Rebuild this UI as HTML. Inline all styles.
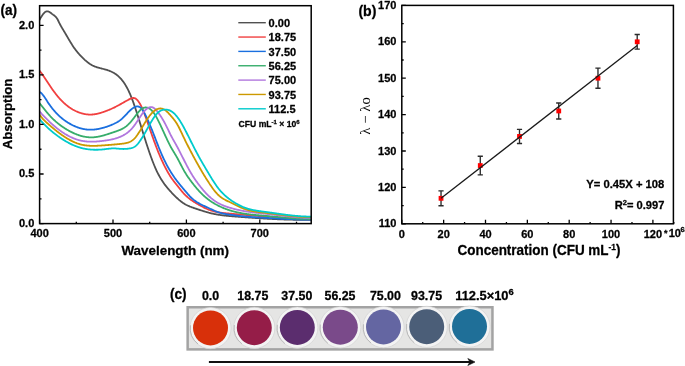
<!DOCTYPE html>
<html><head><meta charset="utf-8"><style>
html,body{margin:0;padding:0;background:#fff;}
body{width:685px;height:366px;overflow:hidden;}
svg{display:block;will-change:transform;font-family:"Liberation Sans", sans-serif;}
text{stroke:#000;stroke-width:0.28px;stroke-linejoin:round;}
.b11{font-size:11px;font-weight:bold;}
.b10{font-size:10.5px;font-weight:bold;}
.b13{font-size:13px;font-weight:bold;}
.b14p{font-size:14.2px;font-weight:bold;}
.b14{font-size:14.5px;font-weight:bold;}
.c12{font-size:12.4px;font-weight:bold;}
</style></head><body>
<svg width="685" height="366" viewBox="0 0 685 366">
<defs><clipPath id="clipA"><rect x="39.6" y="5.7" width="271.6" height="217.9"/></clipPath></defs>
<g fill="none" stroke-width="1.8" stroke-linejoin="round" stroke-linecap="round" clip-path="url(#clipA)">
<path d="M38.50,21.72 L39.00,20.79 L39.50,19.88 L40.00,18.98 L40.50,18.10 L41.00,17.25 L41.50,16.44 L42.00,15.66 L42.50,14.93 L43.00,14.24 L43.50,13.62 L44.00,13.05 L44.50,12.55 L45.00,12.13 L45.50,11.79 L46.00,11.53 L46.50,11.36 L47.00,11.29 L47.50,11.30 L48.00,11.39 L48.50,11.56 L49.00,11.78 L49.50,12.05 L50.00,12.37 L50.50,12.72 L51.00,13.09 L51.50,13.47 L52.00,13.87 L52.50,14.25 L53.00,14.63 L53.50,14.98 L54.00,15.33 L54.50,15.70 L55.00,16.10 L55.50,16.56 L56.00,17.09 L56.50,17.71 L57.00,18.43 L57.50,19.29 L58.00,20.25 L58.50,21.27 L59.00,22.30 L59.50,23.31 L60.00,24.27 L60.50,25.21 L61.00,26.12 L61.50,27.01 L62.00,27.88 L62.50,28.73 L63.00,29.57 L63.50,30.41 L64.00,31.24 L64.50,32.07 L65.00,32.90 L65.50,33.74 L66.00,34.58 L66.50,35.43 L67.00,36.28 L67.50,37.14 L68.00,37.99 L68.50,38.84 L69.00,39.69 L69.50,40.53 L70.00,41.37 L70.50,42.20 L71.00,43.02 L71.50,43.83 L72.00,44.62 L72.50,45.41 L73.00,46.17 L73.50,46.92 L74.00,47.66 L74.50,48.37 L75.00,49.07 L75.50,49.74 L76.00,50.40 L76.50,51.04 L77.00,51.67 L77.50,52.28 L78.00,52.88 L78.50,53.46 L79.00,54.03 L79.50,54.59 L80.00,55.13 L80.50,55.66 L81.00,56.19 L81.50,56.70 L82.00,57.21 L82.50,57.71 L83.00,58.20 L83.50,58.68 L84.00,59.15 L84.50,59.61 L85.00,60.07 L85.50,60.51 L86.00,60.94 L86.50,61.36 L87.00,61.77 L87.50,62.17 L88.00,62.56 L88.50,62.93 L89.00,63.29 L89.50,63.64 L90.00,63.98 L90.50,64.30 L91.00,64.61 L91.50,64.90 L92.00,65.18 L92.50,65.45 L93.00,65.70 L93.50,65.93 L94.00,66.16 L94.50,66.37 L95.00,66.57 L95.50,66.76 L96.00,66.94 L96.50,67.11 L97.00,67.27 L97.50,67.43 L98.00,67.58 L98.50,67.72 L99.00,67.86 L99.50,67.99 L100.00,68.12 L100.50,68.25 L101.00,68.38 L101.50,68.50 L102.00,68.62 L102.50,68.75 L103.00,68.87 L103.50,69.00 L104.00,69.12 L104.50,69.26 L105.00,69.39 L105.50,69.53 L106.00,69.67 L106.50,69.82 L107.00,69.98 L107.50,70.14 L108.00,70.31 L108.50,70.48 L109.00,70.66 L109.50,70.85 L110.00,71.05 L110.50,71.26 L111.00,71.48 L111.50,71.71 L112.00,71.95 L112.50,72.20 L113.00,72.47 L113.50,72.74 L114.00,73.03 L114.50,73.34 L115.00,73.65 L115.50,73.98 L116.00,74.33 L116.50,74.70 L117.00,75.08 L117.50,75.48 L118.00,75.90 L118.50,76.34 L119.00,76.80 L119.50,77.29 L120.00,77.79 L120.50,78.32 L121.00,78.88 L121.50,79.45 L122.00,80.06 L122.50,80.69 L123.00,81.35 L123.50,82.04 L124.00,82.76 L124.50,83.51 L125.00,84.29 L125.50,85.10 L126.00,85.95 L126.50,86.82 L127.00,87.74 L127.50,88.69 L128.00,89.67 L128.50,90.69 L129.00,91.75 L129.50,92.84 L130.00,93.97 L130.50,95.14 L131.00,96.34 L131.50,97.58 L132.00,98.86 L132.50,100.18 L133.00,101.53 L133.50,102.91 L134.00,104.33 L134.50,105.78 L135.00,107.25 L135.50,108.74 L136.00,110.26 L136.50,111.80 L137.00,113.36 L137.50,114.93 L138.00,116.52 L138.50,118.12 L139.00,119.72 L139.50,121.34 L140.00,122.96 L140.50,124.58 L141.00,126.20 L141.50,127.83 L142.00,129.45 L142.50,131.06 L143.00,132.67 L143.50,134.27 L144.00,135.87 L144.50,137.45 L145.00,139.03 L145.50,140.60 L146.00,142.16 L146.50,143.70 L147.00,145.23 L147.50,146.75 L148.00,148.26 L148.50,149.75 L149.00,151.22 L149.50,152.68 L150.00,154.12 L150.50,155.54 L151.00,156.93 L151.50,158.30 L152.00,159.65 L152.50,160.98 L153.00,162.28 L153.50,163.54 L154.00,164.78 L154.50,165.99 L155.00,167.17 L155.50,168.31 L156.00,169.43 L156.50,170.51 L157.00,171.55 L157.50,172.57 L158.00,173.56 L158.50,174.53 L159.00,175.46 L159.50,176.37 L160.00,177.25 L160.50,178.11 L161.00,178.95 L161.50,179.76 L162.00,180.55 L162.50,181.31 L163.00,182.06 L163.50,182.79 L164.00,183.50 L164.50,184.19 L165.00,184.87 L165.50,185.52 L166.00,186.17 L166.50,186.80 L167.00,187.41 L167.50,188.02 L168.00,188.61 L168.50,189.19 L169.00,189.76 L169.50,190.32 L170.00,190.88 L170.50,191.42 L171.00,191.96 L171.50,192.50 L172.00,193.02 L172.50,193.55 L173.00,194.07 L173.50,194.59 L174.00,195.10 L174.50,195.60 L175.00,196.10 L175.50,196.59 L176.00,197.08 L176.50,197.56 L177.00,198.03 L177.50,198.49 L178.00,198.94 L178.50,199.39 L179.00,199.82 L179.50,200.25 L180.00,200.66 L180.50,201.07 L181.00,201.46 L181.50,201.84 L182.00,202.21 L182.50,202.57 L183.00,202.91 L183.50,203.24 L184.00,203.56 L184.50,203.87 L185.00,204.16 L185.50,204.44 L186.00,204.72 L186.50,204.98 L187.00,205.23 L187.50,205.47 L188.00,205.71 L188.50,205.93 L189.00,206.15 L189.50,206.36 L190.00,206.57 L190.50,206.76 L191.00,206.96 L191.50,207.14 L192.00,207.33 L192.50,207.51 L193.00,207.68 L193.50,207.86 L194.00,208.03 L194.50,208.20 L195.00,208.36 L195.50,208.53 L196.00,208.70 L196.50,208.86 L197.00,209.03 L197.50,209.19 L198.00,209.36 L198.50,209.53 L199.00,209.69 L199.50,209.86 L200.00,210.02 L200.50,210.18 L201.00,210.35 L201.50,210.51 L202.00,210.67 L202.50,210.83 L203.00,210.99 L203.50,211.14 L204.00,211.30 L204.50,211.45 L205.00,211.60 L205.50,211.75 L206.00,211.90 L206.50,212.05 L207.00,212.19 L207.50,212.34 L208.00,212.48 L208.50,212.61 L209.00,212.75 L209.50,212.88 L210.00,213.01 L210.50,213.14 L211.00,213.26 L211.50,213.38 L212.00,213.50 L212.50,213.61 L213.00,213.72 L213.50,213.83 L214.00,213.94 L214.50,214.04 L215.00,214.14 L215.50,214.23 L216.00,214.33 L216.50,214.42 L217.00,214.50 L217.50,214.59 L218.00,214.67 L218.50,214.75 L219.00,214.83 L219.50,214.91 L220.00,214.98 L220.50,215.05 L221.00,215.12 L221.50,215.19 L222.00,215.25 L222.50,215.31 L223.00,215.38 L223.50,215.44 L224.00,215.49 L224.50,215.55 L225.00,215.60 L225.50,215.66 L226.00,215.71 L226.50,215.76 L227.00,215.81 L227.50,215.86 L228.00,215.90 L228.50,215.95 L229.00,216.00 L229.50,216.04 L230.00,216.08 L230.50,216.13 L231.00,216.17 L231.50,216.21 L232.00,216.25 L232.50,216.29 L233.00,216.33 L233.50,216.37 L234.00,216.41 L234.50,216.45 L235.00,216.49 L235.50,216.53 L236.00,216.56 L236.50,216.60 L237.00,216.64 L237.50,216.68 L238.00,216.72 L238.50,216.76 L239.00,216.79 L239.50,216.83 L240.00,216.87 L240.50,216.91 L241.00,216.95 L241.50,216.98 L242.00,217.02 L242.50,217.06 L243.00,217.10 L243.50,217.14 L244.00,217.17 L244.50,217.21 L245.00,217.25 L245.50,217.28 L246.00,217.32 L246.50,217.36 L247.00,217.39 L247.50,217.43 L248.00,217.47 L248.50,217.50 L249.00,217.54 L249.50,217.57 L250.00,217.61 L250.50,217.65 L251.00,217.68 L251.50,217.72 L252.00,217.75 L252.50,217.79 L253.00,217.82 L253.50,217.85 L254.00,217.89 L254.50,217.92 L255.00,217.96 L255.50,217.99 L256.00,218.02 L256.50,218.06 L257.00,218.09 L257.50,218.12 L258.00,218.16 L258.50,218.19 L259.00,218.22 L259.50,218.25 L260.00,218.29 L260.50,218.32 L261.00,218.35 L261.50,218.38 L262.00,218.41 L262.50,218.44 L263.00,218.47 L263.50,218.50 L264.00,218.53 L264.50,218.56 L265.00,218.59 L265.50,218.62 L266.00,218.65 L266.50,218.68 L267.00,218.71 L267.50,218.73 L268.00,218.76 L268.50,218.79 L269.00,218.82 L269.50,218.84 L270.00,218.87 L270.50,218.90 L271.00,218.92 L271.50,218.95 L272.00,218.97 L272.50,219.00 L273.00,219.02 L273.50,219.05 L274.00,219.07 L274.50,219.10 L275.00,219.12 L275.50,219.14 L276.00,219.17 L276.50,219.19 L277.00,219.21 L277.50,219.23 L278.00,219.25 L278.50,219.28 L279.00,219.30 L279.50,219.32 L280.00,219.34 L280.50,219.36 L281.00,219.38 L281.50,219.39 L282.00,219.41 L282.50,219.43 L283.00,219.45 L283.50,219.47 L284.00,219.48 L284.50,219.50 L285.00,219.52 L285.50,219.53 L286.00,219.55 L286.50,219.56 L287.00,219.58 L287.50,219.59 L288.00,219.61 L288.50,219.62 L289.00,219.63 L289.50,219.65 L290.00,219.66 L290.50,219.67 L291.00,219.68 L291.50,219.69 L292.00,219.70 L292.50,219.71 L293.00,219.72 L293.50,219.73 L294.00,219.74 L294.50,219.75 L295.00,219.76 L295.50,219.77 L296.00,219.77 L296.50,219.78 L297.00,219.78 L297.50,219.79 L298.00,219.80 L298.50,219.80 L299.00,219.80 L299.50,219.81 L300.00,219.81 L300.50,219.81 L301.00,219.81 L301.50,219.82 L302.00,219.82 L302.50,219.82 L303.00,219.82 L303.50,219.82 L304.00,219.82 L304.50,219.82 L305.00,219.81 L305.50,219.81 L306.00,219.81 L306.50,219.80 L307.00,219.80 L307.50,219.80 L308.00,219.79 L308.50,219.78 L309.00,219.78 L309.50,219.77 L310.00,219.76 L310.50,219.76 L311.00,219.75" stroke="#515151"/>
<path d="M38.10,69.25 L38.60,69.76 L39.10,70.29 L39.60,70.85 L40.10,71.44 L40.60,72.06 L41.10,72.70 L41.60,73.36 L42.10,74.04 L42.60,74.74 L43.10,75.46 L43.60,76.19 L44.10,76.93 L44.60,77.68 L45.10,78.44 L45.60,79.20 L46.10,79.97 L46.60,80.74 L47.10,81.51 L47.60,82.28 L48.10,83.05 L48.60,83.81 L49.10,84.56 L49.60,85.31 L50.10,86.05 L50.60,86.79 L51.10,87.52 L51.60,88.24 L52.10,88.95 L52.60,89.66 L53.10,90.36 L53.60,91.05 L54.10,91.73 L54.60,92.40 L55.10,93.06 L55.60,93.71 L56.10,94.35 L56.60,94.98 L57.10,95.60 L57.60,96.21 L58.10,96.81 L58.60,97.40 L59.10,97.97 L59.60,98.53 L60.10,99.08 L60.60,99.62 L61.10,100.15 L61.60,100.67 L62.10,101.18 L62.60,101.67 L63.10,102.16 L63.60,102.63 L64.10,103.09 L64.60,103.55 L65.10,103.99 L65.60,104.42 L66.10,104.84 L66.60,105.25 L67.10,105.65 L67.60,106.04 L68.10,106.42 L68.60,106.79 L69.10,107.15 L69.60,107.51 L70.10,107.85 L70.60,108.18 L71.10,108.50 L71.60,108.82 L72.10,109.12 L72.60,109.42 L73.10,109.70 L73.60,109.98 L74.10,110.25 L74.60,110.51 L75.10,110.76 L75.60,111.01 L76.10,111.24 L76.60,111.47 L77.10,111.69 L77.60,111.90 L78.10,112.10 L78.60,112.29 L79.10,112.48 L79.60,112.66 L80.10,112.83 L80.60,112.99 L81.10,113.15 L81.60,113.30 L82.10,113.44 L82.60,113.57 L83.10,113.69 L83.60,113.81 L84.10,113.92 L84.60,114.02 L85.10,114.11 L85.60,114.20 L86.10,114.27 L86.60,114.34 L87.10,114.40 L87.60,114.45 L88.10,114.49 L88.60,114.53 L89.10,114.55 L89.60,114.57 L90.10,114.58 L90.60,114.58 L91.10,114.57 L91.60,114.55 L92.10,114.52 L92.60,114.49 L93.10,114.44 L93.60,114.39 L94.10,114.32 L94.60,114.25 L95.10,114.18 L95.60,114.09 L96.10,114.00 L96.60,113.90 L97.10,113.79 L97.60,113.68 L98.10,113.56 L98.60,113.44 L99.10,113.31 L99.60,113.17 L100.10,113.03 L100.60,112.89 L101.10,112.74 L101.60,112.58 L102.10,112.42 L102.60,112.26 L103.10,112.09 L103.60,111.92 L104.10,111.75 L104.60,111.57 L105.10,111.39 L105.60,111.21 L106.10,111.02 L106.60,110.83 L107.10,110.64 L107.60,110.45 L108.10,110.25 L108.60,110.04 L109.10,109.84 L109.60,109.63 L110.10,109.42 L110.60,109.20 L111.10,108.98 L111.60,108.76 L112.10,108.53 L112.60,108.30 L113.10,108.06 L113.60,107.82 L114.10,107.58 L114.60,107.33 L115.10,107.08 L115.60,106.82 L116.10,106.57 L116.60,106.30 L117.10,106.04 L117.60,105.77 L118.10,105.50 L118.60,105.23 L119.10,104.96 L119.60,104.68 L120.10,104.40 L120.60,104.12 L121.10,103.84 L121.60,103.56 L122.10,103.28 L122.60,102.99 L123.10,102.71 L123.60,102.43 L124.10,102.14 L124.60,101.86 L125.10,101.58 L125.60,101.30 L126.10,101.02 L126.60,100.74 L127.10,100.47 L127.60,100.19 L128.10,99.92 L128.60,99.66 L129.10,99.40 L129.60,99.14 L130.10,98.89 L130.60,98.67 L131.10,98.46 L131.60,98.28 L132.10,98.14 L132.60,98.04 L133.10,97.98 L133.60,97.97 L134.10,98.03 L134.60,98.14 L135.10,98.33 L135.60,98.59 L136.10,98.93 L136.60,99.33 L137.10,99.80 L137.60,100.35 L138.10,100.96 L138.60,101.63 L139.10,102.38 L139.60,103.18 L140.10,104.05 L140.60,104.97 L141.10,105.96 L141.60,107.00 L142.10,108.10 L142.60,109.24 L143.10,110.44 L143.60,111.67 L144.10,112.94 L144.60,114.24 L145.10,115.57 L145.60,116.93 L146.10,118.31 L146.60,119.71 L147.10,121.12 L147.60,122.54 L148.10,123.97 L148.60,125.41 L149.10,126.85 L149.60,128.29 L150.10,129.73 L150.60,131.17 L151.10,132.61 L151.60,134.04 L152.10,135.47 L152.60,136.89 L153.10,138.29 L153.60,139.69 L154.10,141.07 L154.60,142.43 L155.10,143.79 L155.60,145.13 L156.10,146.45 L156.60,147.75 L157.10,149.04 L157.60,150.31 L158.10,151.56 L158.60,152.80 L159.10,154.01 L159.60,155.20 L160.10,156.37 L160.60,157.53 L161.10,158.66 L161.60,159.77 L162.10,160.87 L162.60,161.94 L163.10,163.00 L163.60,164.04 L164.10,165.06 L164.60,166.07 L165.10,167.05 L165.60,168.02 L166.10,168.97 L166.60,169.91 L167.10,170.83 L167.60,171.72 L168.10,172.60 L168.60,173.46 L169.10,174.30 L169.60,175.12 L170.10,175.92 L170.60,176.69 L171.10,177.45 L171.60,178.18 L172.10,178.90 L172.60,179.59 L173.10,180.28 L173.60,180.94 L174.10,181.60 L174.60,182.25 L175.10,182.89 L175.60,183.52 L176.10,184.15 L176.60,184.78 L177.10,185.41 L177.60,186.04 L178.10,186.67 L178.60,187.30 L179.10,187.93 L179.60,188.55 L180.10,189.17 L180.60,189.79 L181.10,190.40 L181.60,190.99 L182.10,191.58 L182.60,192.16 L183.10,192.73 L183.60,193.28 L184.10,193.82 L184.60,194.34 L185.10,194.85 L185.60,195.34 L186.10,195.82 L186.60,196.28 L187.10,196.73 L187.60,197.17 L188.10,197.60 L188.60,198.01 L189.10,198.41 L189.60,198.81 L190.10,199.19 L190.60,199.56 L191.10,199.92 L191.60,200.28 L192.10,200.62 L192.60,200.96 L193.10,201.29 L193.60,201.62 L194.10,201.93 L194.60,202.25 L195.10,202.55 L195.60,202.86 L196.10,203.15 L196.60,203.45 L197.10,203.74 L197.60,204.03 L198.10,204.31 L198.60,204.59 L199.10,204.88 L199.60,205.16 L200.10,205.44 L200.60,205.72 L201.10,205.99 L201.60,206.26 L202.10,206.53 L202.60,206.80 L203.10,207.07 L203.60,207.33 L204.10,207.58 L204.60,207.83 L205.10,208.08 L205.60,208.32 L206.10,208.55 L206.60,208.78 L207.10,209.00 L207.60,209.22 L208.10,209.43 L208.60,209.63 L209.10,209.82 L209.60,210.01 L210.10,210.19 L210.60,210.36 L211.10,210.53 L211.60,210.69 L212.10,210.84 L212.60,210.99 L213.10,211.13 L213.60,211.26 L214.10,211.39 L214.60,211.52 L215.10,211.64 L215.60,211.75 L216.10,211.86 L216.60,211.97 L217.10,212.07 L217.60,212.16 L218.10,212.25 L218.60,212.34 L219.10,212.42 L219.60,212.50 L220.10,212.58 L220.60,212.65 L221.10,212.72 L221.60,212.79 L222.10,212.86 L222.60,212.92 L223.10,212.98 L223.60,213.03 L224.10,213.09 L224.60,213.14 L225.10,213.19 L225.60,213.24 L226.10,213.29 L226.60,213.34 L227.10,213.38 L227.60,213.43 L228.10,213.47 L228.60,213.51 L229.10,213.56 L229.60,213.60 L230.10,213.64 L230.60,213.68 L231.10,213.73 L231.60,213.77 L232.10,213.81 L232.60,213.85 L233.10,213.90 L233.60,213.94 L234.10,213.98 L234.60,214.03 L235.10,214.07 L235.60,214.11 L236.10,214.16 L236.60,214.20 L237.10,214.24 L237.60,214.28 L238.10,214.33 L238.60,214.37 L239.10,214.41 L239.60,214.46 L240.10,214.50 L240.60,214.54 L241.10,214.58 L241.60,214.63 L242.10,214.67 L242.60,214.71 L243.10,214.76 L243.60,214.80 L244.10,214.84 L244.60,214.88 L245.10,214.93 L245.60,214.97 L246.10,215.01 L246.60,215.05 L247.10,215.10 L247.60,215.14 L248.10,215.18 L248.60,215.22 L249.10,215.26 L249.60,215.31 L250.10,215.35 L250.60,215.39 L251.10,215.43 L251.60,215.47 L252.10,215.51 L252.60,215.55 L253.10,215.59 L253.60,215.63 L254.10,215.68 L254.60,215.72 L255.10,215.76 L255.60,215.80 L256.10,215.84 L256.60,215.88 L257.10,215.92 L257.60,215.95 L258.10,215.99 L258.60,216.03 L259.10,216.07 L259.60,216.11 L260.10,216.15 L260.60,216.19 L261.10,216.23 L261.60,216.26 L262.10,216.30 L262.60,216.34 L263.10,216.38 L263.60,216.41 L264.10,216.45 L264.60,216.49 L265.10,216.52 L265.60,216.56 L266.10,216.59 L266.60,216.63 L267.10,216.67 L267.60,216.70 L268.10,216.74 L268.60,216.77 L269.10,216.80 L269.60,216.84 L270.10,216.87 L270.60,216.91 L271.10,216.94 L271.60,216.97 L272.10,217.00 L272.60,217.04 L273.10,217.07 L273.60,217.10 L274.10,217.13 L274.60,217.16 L275.10,217.19 L275.60,217.22 L276.10,217.25 L276.60,217.28 L277.10,217.31 L277.60,217.34 L278.10,217.37 L278.60,217.40 L279.10,217.42 L279.60,217.45 L280.10,217.48 L280.60,217.50 L281.10,217.53 L281.60,217.56 L282.10,217.58 L282.60,217.61 L283.10,217.63 L283.60,217.66 L284.10,217.68 L284.60,217.70 L285.10,217.73 L285.60,217.75 L286.10,217.77 L286.60,217.79 L287.10,217.81 L287.60,217.84 L288.10,217.86 L288.60,217.88 L289.10,217.90 L289.60,217.91 L290.10,217.93 L290.60,217.95 L291.10,217.97 L291.60,217.99 L292.10,218.00 L292.60,218.02 L293.10,218.04 L293.60,218.05 L294.10,218.07 L294.60,218.08 L295.10,218.09 L295.60,218.11 L296.10,218.12 L296.60,218.13 L297.10,218.14 L297.60,218.15 L298.10,218.16 L298.60,218.17 L299.10,218.18 L299.60,218.19 L300.10,218.20 L300.60,218.21 L301.10,218.22 L301.60,218.22 L302.10,218.23 L302.60,218.24 L303.10,218.24 L303.60,218.25 L304.10,218.25 L304.60,218.25 L305.10,218.26 L305.60,218.26 L306.10,218.26 L306.60,218.26 L307.10,218.26 L307.60,218.26 L308.10,218.26 L308.60,218.26 L309.10,218.26 L309.60,218.25 L310.10,218.25 L310.60,218.24" stroke="#F14040"/>
<path d="M38.10,91.61 L38.60,91.64 L39.10,91.75 L39.60,91.95 L40.10,92.23 L40.60,92.58 L41.10,92.99 L41.60,93.47 L42.10,94.00 L42.60,94.58 L43.10,95.20 L43.60,95.87 L44.10,96.56 L44.60,97.28 L45.10,98.03 L45.60,98.79 L46.10,99.56 L46.60,100.34 L47.10,101.12 L47.60,101.89 L48.10,102.65 L48.60,103.39 L49.10,104.12 L49.60,104.84 L50.10,105.54 L50.60,106.22 L51.10,106.89 L51.60,107.55 L52.10,108.19 L52.60,108.82 L53.10,109.44 L53.60,110.04 L54.10,110.63 L54.60,111.20 L55.10,111.77 L55.60,112.32 L56.10,112.86 L56.60,113.38 L57.10,113.90 L57.60,114.40 L58.10,114.90 L58.60,115.38 L59.10,115.85 L59.60,116.31 L60.10,116.76 L60.60,117.19 L61.10,117.62 L61.60,118.04 L62.10,118.45 L62.60,118.85 L63.10,119.24 L63.60,119.62 L64.10,120.00 L64.60,120.36 L65.10,120.72 L65.60,121.07 L66.10,121.41 L66.60,121.74 L67.10,122.07 L67.60,122.39 L68.10,122.70 L68.60,123.01 L69.10,123.31 L69.60,123.60 L70.10,123.88 L70.60,124.16 L71.10,124.43 L71.60,124.70 L72.10,124.96 L72.60,125.21 L73.10,125.45 L73.60,125.69 L74.10,125.92 L74.60,126.15 L75.10,126.37 L75.60,126.58 L76.10,126.78 L76.60,126.98 L77.10,127.17 L77.60,127.35 L78.10,127.53 L78.60,127.70 L79.10,127.86 L79.60,128.02 L80.10,128.17 L80.60,128.31 L81.10,128.45 L81.60,128.58 L82.10,128.70 L82.60,128.81 L83.10,128.92 L83.60,129.02 L84.10,129.12 L84.60,129.21 L85.10,129.29 L85.60,129.36 L86.10,129.43 L86.60,129.49 L87.10,129.54 L87.60,129.59 L88.10,129.63 L88.60,129.66 L89.10,129.69 L89.60,129.71 L90.10,129.72 L90.60,129.72 L91.10,129.72 L91.60,129.71 L92.10,129.69 L92.60,129.67 L93.10,129.64 L93.60,129.61 L94.10,129.56 L94.60,129.51 L95.10,129.46 L95.60,129.40 L96.10,129.33 L96.60,129.25 L97.10,129.17 L97.60,129.09 L98.10,129.00 L98.60,128.90 L99.10,128.80 L99.60,128.70 L100.10,128.59 L100.60,128.47 L101.10,128.35 L101.60,128.23 L102.10,128.10 L102.60,127.97 L103.10,127.83 L103.60,127.69 L104.10,127.55 L104.60,127.40 L105.10,127.25 L105.60,127.10 L106.10,126.94 L106.60,126.78 L107.10,126.61 L107.60,126.44 L108.10,126.26 L108.60,126.08 L109.10,125.90 L109.60,125.71 L110.10,125.52 L110.60,125.32 L111.10,125.12 L111.60,124.91 L112.10,124.70 L112.60,124.48 L113.10,124.25 L113.60,124.03 L114.10,123.79 L114.60,123.55 L115.10,123.30 L115.60,123.05 L116.10,122.79 L116.60,122.51 L117.10,122.23 L117.60,121.94 L118.10,121.63 L118.60,121.31 L119.10,120.98 L119.60,120.63 L120.10,120.26 L120.60,119.88 L121.10,119.48 L121.60,119.06 L122.10,118.62 L122.60,118.16 L123.10,117.68 L123.60,117.19 L124.10,116.68 L124.60,116.17 L125.10,115.64 L125.60,115.11 L126.10,114.58 L126.60,114.04 L127.10,113.51 L127.60,112.98 L128.10,112.45 L128.60,111.94 L129.10,111.43 L129.60,110.94 L130.10,110.47 L130.60,110.01 L131.10,109.56 L131.60,109.14 L132.10,108.75 L132.60,108.37 L133.10,108.03 L133.60,107.71 L134.10,107.42 L134.60,107.16 L135.10,106.94 L135.60,106.75 L136.10,106.61 L136.60,106.50 L137.10,106.45 L137.60,106.45 L138.10,106.50 L138.60,106.61 L139.10,106.78 L139.60,107.03 L140.10,107.34 L140.60,107.73 L141.10,108.19 L141.60,108.74 L142.10,109.36 L142.60,110.05 L143.10,110.80 L143.60,111.62 L144.10,112.48 L144.60,113.40 L145.10,114.36 L145.60,115.36 L146.10,116.38 L146.60,117.44 L147.10,118.52 L147.60,119.61 L148.10,120.73 L148.60,121.86 L149.10,123.00 L149.60,124.16 L150.10,125.34 L150.60,126.54 L151.10,127.74 L151.60,128.97 L152.10,130.21 L152.60,131.46 L153.10,132.73 L153.60,134.01 L154.10,135.30 L154.60,136.60 L155.10,137.91 L155.60,139.22 L156.10,140.52 L156.60,141.83 L157.10,143.13 L157.60,144.42 L158.10,145.70 L158.60,146.96 L159.10,148.21 L159.60,149.44 L160.10,150.65 L160.60,151.84 L161.10,153.01 L161.60,154.16 L162.10,155.29 L162.60,156.41 L163.10,157.50 L163.60,158.58 L164.10,159.63 L164.60,160.67 L165.10,161.68 L165.60,162.68 L166.10,163.66 L166.60,164.61 L167.10,165.55 L167.60,166.48 L168.10,167.38 L168.60,168.27 L169.10,169.14 L169.60,169.99 L170.10,170.83 L170.60,171.65 L171.10,172.46 L171.60,173.26 L172.10,174.03 L172.60,174.80 L173.10,175.55 L173.60,176.29 L174.10,177.01 L174.60,177.72 L175.10,178.42 L175.60,179.11 L176.10,179.79 L176.60,180.46 L177.10,181.11 L177.60,181.76 L178.10,182.40 L178.60,183.03 L179.10,183.65 L179.60,184.26 L180.10,184.87 L180.60,185.48 L181.10,186.08 L181.60,186.67 L182.10,187.27 L182.60,187.86 L183.10,188.46 L183.60,189.05 L184.10,189.65 L184.60,190.24 L185.10,190.84 L185.60,191.44 L186.10,192.03 L186.60,192.62 L187.10,193.20 L187.60,193.78 L188.10,194.35 L188.60,194.91 L189.10,195.45 L189.60,195.99 L190.10,196.51 L190.60,197.02 L191.10,197.51 L191.60,197.98 L192.10,198.44 L192.60,198.88 L193.10,199.30 L193.60,199.71 L194.10,200.11 L194.60,200.49 L195.10,200.86 L195.60,201.21 L196.10,201.55 L196.60,201.89 L197.10,202.21 L197.60,202.52 L198.10,202.82 L198.60,203.11 L199.10,203.40 L199.60,203.68 L200.10,203.95 L200.60,204.21 L201.10,204.47 L201.60,204.72 L202.10,204.97 L202.60,205.21 L203.10,205.45 L203.60,205.69 L204.10,205.93 L204.60,206.16 L205.10,206.39 L205.60,206.62 L206.10,206.85 L206.60,207.08 L207.10,207.31 L207.60,207.54 L208.10,207.77 L208.60,208.01 L209.10,208.24 L209.60,208.48 L210.10,208.72 L210.60,208.96 L211.10,209.19 L211.60,209.43 L212.10,209.67 L212.60,209.90 L213.10,210.13 L213.60,210.36 L214.10,210.58 L214.60,210.80 L215.10,211.02 L215.60,211.23 L216.10,211.43 L216.60,211.63 L217.10,211.82 L217.60,212.00 L218.10,212.18 L218.60,212.35 L219.10,212.51 L219.60,212.66 L220.10,212.81 L220.60,212.95 L221.10,213.08 L221.60,213.20 L222.10,213.32 L222.60,213.44 L223.10,213.55 L223.60,213.65 L224.10,213.75 L224.60,213.85 L225.10,213.94 L225.60,214.03 L226.10,214.11 L226.60,214.20 L227.10,214.28 L227.60,214.35 L228.10,214.43 L228.60,214.50 L229.10,214.57 L229.60,214.64 L230.10,214.71 L230.60,214.78 L231.10,214.85 L231.60,214.92 L232.10,214.99 L232.60,215.06 L233.10,215.12 L233.60,215.19 L234.10,215.26 L234.60,215.32 L235.10,215.38 L235.60,215.45 L236.10,215.51 L236.60,215.57 L237.10,215.63 L237.60,215.70 L238.10,215.76 L238.60,215.81 L239.10,215.87 L239.60,215.93 L240.10,215.99 L240.60,216.04 L241.10,216.10 L241.60,216.15 L242.10,216.21 L242.60,216.26 L243.10,216.31 L243.60,216.36 L244.10,216.41 L244.60,216.46 L245.10,216.50 L245.60,216.55 L246.10,216.60 L246.60,216.64 L247.10,216.68 L247.60,216.72 L248.10,216.77 L248.60,216.81 L249.10,216.85 L249.60,216.88 L250.10,216.92 L250.60,216.96 L251.10,217.00 L251.60,217.03 L252.10,217.07 L252.60,217.10 L253.10,217.14 L253.60,217.17 L254.10,217.20 L254.60,217.23 L255.10,217.27 L255.60,217.30 L256.10,217.33 L256.60,217.36 L257.10,217.39 L257.60,217.42 L258.10,217.45 L258.60,217.47 L259.10,217.50 L259.60,217.53 L260.10,217.56 L260.60,217.59 L261.10,217.61 L261.60,217.64 L262.10,217.67 L262.60,217.70 L263.10,217.72 L263.60,217.75 L264.10,217.78 L264.60,217.81 L265.10,217.83 L265.60,217.86 L266.10,217.89 L266.60,217.91 L267.10,217.94 L267.60,217.97 L268.10,218.00 L268.60,218.02 L269.10,218.05 L269.60,218.08 L270.10,218.11 L270.60,218.14 L271.10,218.16 L271.60,218.19 L272.10,218.22 L272.60,218.25 L273.10,218.27 L273.60,218.30 L274.10,218.33 L274.60,218.36 L275.10,218.38 L275.60,218.41 L276.10,218.44 L276.60,218.46 L277.10,218.49 L277.60,218.52 L278.10,218.55 L278.60,218.57 L279.10,218.60 L279.60,218.62 L280.10,218.65 L280.60,218.68 L281.10,218.70 L281.60,218.73 L282.10,218.75 L282.60,218.78 L283.10,218.81 L283.60,218.83 L284.10,218.86 L284.60,218.88 L285.10,218.90 L285.60,218.93 L286.10,218.95 L286.60,218.98 L287.10,219.00 L287.60,219.02 L288.10,219.05 L288.60,219.07 L289.10,219.09 L289.60,219.11 L290.10,219.14 L290.60,219.16 L291.10,219.18 L291.60,219.20 L292.10,219.22 L292.60,219.24 L293.10,219.26 L293.60,219.28 L294.10,219.30 L294.60,219.32 L295.10,219.34 L295.60,219.36 L296.10,219.37 L296.60,219.39 L297.10,219.41 L297.60,219.42 L298.10,219.44 L298.60,219.46 L299.10,219.47 L299.60,219.49 L300.10,219.50 L300.60,219.52 L301.10,219.53 L301.60,219.54 L302.10,219.56 L302.60,219.57 L303.10,219.58 L303.60,219.59 L304.10,219.60 L304.60,219.61 L305.10,219.62 L305.60,219.63 L306.10,219.64 L306.60,219.65 L307.10,219.66 L307.60,219.67 L308.10,219.67 L308.60,219.68 L309.10,219.68 L309.60,219.69 L310.10,219.69 L310.60,219.70" stroke="#1A6FDF"/>
<path d="M38.10,101.54 L38.60,102.12 L39.10,102.71 L39.60,103.31 L40.10,103.92 L40.60,104.53 L41.10,105.15 L41.60,105.77 L42.10,106.39 L42.60,107.02 L43.10,107.65 L43.60,108.28 L44.10,108.90 L44.60,109.53 L45.10,110.15 L45.60,110.77 L46.10,111.38 L46.60,111.99 L47.10,112.59 L47.60,113.18 L48.10,113.76 L48.60,114.33 L49.10,114.89 L49.60,115.45 L50.10,115.99 L50.60,116.52 L51.10,117.05 L51.60,117.56 L52.10,118.07 L52.60,118.57 L53.10,119.06 L53.60,119.54 L54.10,120.01 L54.60,120.47 L55.10,120.93 L55.60,121.38 L56.10,121.81 L56.60,122.25 L57.10,122.67 L57.60,123.09 L58.10,123.50 L58.60,123.90 L59.10,124.29 L59.60,124.68 L60.10,125.06 L60.60,125.43 L61.10,125.80 L61.60,126.16 L62.10,126.51 L62.60,126.86 L63.10,127.20 L63.60,127.54 L64.10,127.87 L64.60,128.19 L65.10,128.51 L65.60,128.82 L66.10,129.13 L66.60,129.43 L67.10,129.73 L67.60,130.02 L68.10,130.30 L68.60,130.59 L69.10,130.86 L69.60,131.14 L70.10,131.40 L70.60,131.67 L71.10,131.92 L71.60,132.18 L72.10,132.42 L72.60,132.66 L73.10,132.90 L73.60,133.13 L74.10,133.36 L74.60,133.58 L75.10,133.79 L75.60,134.00 L76.10,134.20 L76.60,134.40 L77.10,134.59 L77.60,134.78 L78.10,134.96 L78.60,135.13 L79.10,135.30 L79.60,135.46 L80.10,135.62 L80.60,135.77 L81.10,135.91 L81.60,136.05 L82.10,136.18 L82.60,136.30 L83.10,136.42 L83.60,136.53 L84.10,136.63 L84.60,136.73 L85.10,136.82 L85.60,136.91 L86.10,136.98 L86.60,137.05 L87.10,137.12 L87.60,137.17 L88.10,137.22 L88.60,137.26 L89.10,137.30 L89.60,137.33 L90.10,137.35 L90.60,137.36 L91.10,137.36 L91.60,137.36 L92.10,137.35 L92.60,137.33 L93.10,137.31 L93.60,137.28 L94.10,137.24 L94.60,137.19 L95.10,137.14 L95.60,137.08 L96.10,137.01 L96.60,136.94 L97.10,136.86 L97.60,136.78 L98.10,136.69 L98.60,136.60 L99.10,136.50 L99.60,136.39 L100.10,136.29 L100.60,136.17 L101.10,136.05 L101.60,135.93 L102.10,135.80 L102.60,135.67 L103.10,135.54 L103.60,135.40 L104.10,135.26 L104.60,135.12 L105.10,134.97 L105.60,134.82 L106.10,134.67 L106.60,134.51 L107.10,134.36 L107.60,134.20 L108.10,134.04 L108.60,133.88 L109.10,133.71 L109.60,133.55 L110.10,133.38 L110.60,133.22 L111.10,133.05 L111.60,132.88 L112.10,132.71 L112.60,132.54 L113.10,132.37 L113.60,132.21 L114.10,132.04 L114.60,131.87 L115.10,131.70 L115.60,131.54 L116.10,131.36 L116.60,131.19 L117.10,131.01 L117.60,130.83 L118.10,130.65 L118.60,130.46 L119.10,130.26 L119.60,130.05 L120.10,129.84 L120.60,129.62 L121.10,129.38 L121.60,129.14 L122.10,128.89 L122.60,128.62 L123.10,128.35 L123.60,128.05 L124.10,127.75 L124.60,127.43 L125.10,127.09 L125.60,126.73 L126.10,126.36 L126.60,125.97 L127.10,125.56 L127.60,125.12 L128.10,124.67 L128.60,124.19 L129.10,123.69 L129.60,123.17 L130.10,122.63 L130.60,122.06 L131.10,121.48 L131.60,120.88 L132.10,120.27 L132.60,119.64 L133.10,119.00 L133.60,118.35 L134.10,117.70 L134.60,117.03 L135.10,116.37 L135.60,115.70 L136.10,115.03 L136.60,114.37 L137.10,113.73 L137.60,113.09 L138.10,112.47 L138.60,111.88 L139.10,111.31 L139.60,110.76 L140.10,110.26 L140.60,109.79 L141.10,109.36 L141.60,108.98 L142.10,108.64 L142.60,108.35 L143.10,108.09 L143.60,107.89 L144.10,107.72 L144.60,107.60 L145.10,107.52 L145.60,107.48 L146.10,107.49 L146.60,107.53 L147.10,107.61 L147.60,107.74 L148.10,107.91 L148.60,108.11 L149.10,108.37 L149.60,108.66 L150.10,109.00 L150.60,109.38 L151.10,109.81 L151.60,110.28 L152.10,110.80 L152.60,111.37 L153.10,111.99 L153.60,112.66 L154.10,113.37 L154.60,114.12 L155.10,114.91 L155.60,115.74 L156.10,116.61 L156.60,117.50 L157.10,118.43 L157.60,119.38 L158.10,120.35 L158.60,121.35 L159.10,122.36 L159.60,123.39 L160.10,124.43 L160.60,125.48 L161.10,126.55 L161.60,127.62 L162.10,128.70 L162.60,129.78 L163.10,130.88 L163.60,131.97 L164.10,133.06 L164.60,134.16 L165.10,135.25 L165.60,136.33 L166.10,137.42 L166.60,138.49 L167.10,139.55 L167.60,140.61 L168.10,141.64 L168.60,142.67 L169.10,143.67 L169.60,144.66 L170.10,145.62 L170.60,146.56 L171.10,147.48 L171.60,148.36 L172.10,149.23 L172.60,150.08 L173.10,150.91 L173.60,151.74 L174.10,152.56 L174.60,153.38 L175.10,154.21 L175.60,155.04 L176.10,155.88 L176.60,156.74 L177.10,157.62 L177.60,158.53 L178.10,159.45 L178.60,160.39 L179.10,161.35 L179.60,162.31 L180.10,163.28 L180.60,164.25 L181.10,165.22 L181.60,166.18 L182.10,167.14 L182.60,168.09 L183.10,169.02 L183.60,169.93 L184.10,170.82 L184.60,171.68 L185.10,172.52 L185.60,173.34 L186.10,174.14 L186.60,174.92 L187.10,175.68 L187.60,176.43 L188.10,177.16 L188.60,177.87 L189.10,178.58 L189.60,179.27 L190.10,179.96 L190.60,180.63 L191.10,181.30 L191.60,181.97 L192.10,182.62 L192.60,183.28 L193.10,183.92 L193.60,184.56 L194.10,185.19 L194.60,185.82 L195.10,186.43 L195.60,187.04 L196.10,187.64 L196.60,188.24 L197.10,188.82 L197.60,189.40 L198.10,189.96 L198.60,190.52 L199.10,191.07 L199.60,191.60 L200.10,192.13 L200.60,192.65 L201.10,193.16 L201.60,193.66 L202.10,194.15 L202.60,194.63 L203.10,195.10 L203.60,195.56 L204.10,196.01 L204.60,196.46 L205.10,196.89 L205.60,197.32 L206.10,197.74 L206.60,198.15 L207.10,198.55 L207.60,198.95 L208.10,199.33 L208.60,199.71 L209.10,200.08 L209.60,200.44 L210.10,200.80 L210.60,201.14 L211.10,201.48 L211.60,201.82 L212.10,202.14 L212.60,202.46 L213.10,202.77 L213.60,203.08 L214.10,203.38 L214.60,203.68 L215.10,203.96 L215.60,204.25 L216.10,204.52 L216.60,204.80 L217.10,205.06 L217.60,205.32 L218.10,205.58 L218.60,205.83 L219.10,206.08 L219.60,206.32 L220.10,206.56 L220.60,206.79 L221.10,207.02 L221.60,207.24 L222.10,207.46 L222.60,207.68 L223.10,207.89 L223.60,208.10 L224.10,208.30 L224.60,208.50 L225.10,208.69 L225.60,208.88 L226.10,209.07 L226.60,209.25 L227.10,209.43 L227.60,209.61 L228.10,209.78 L228.60,209.95 L229.10,210.11 L229.60,210.27 L230.10,210.43 L230.60,210.58 L231.10,210.73 L231.60,210.88 L232.10,211.02 L232.60,211.16 L233.10,211.30 L233.60,211.43 L234.10,211.56 L234.60,211.69 L235.10,211.81 L235.60,211.94 L236.10,212.06 L236.60,212.17 L237.10,212.28 L237.60,212.40 L238.10,212.50 L238.60,212.61 L239.10,212.71 L239.60,212.81 L240.10,212.91 L240.60,213.00 L241.10,213.10 L241.60,213.19 L242.10,213.28 L242.60,213.36 L243.10,213.45 L243.60,213.53 L244.10,213.61 L244.60,213.68 L245.10,213.76 L245.60,213.83 L246.10,213.91 L246.60,213.98 L247.10,214.04 L247.60,214.11 L248.10,214.18 L248.60,214.24 L249.10,214.30 L249.60,214.36 L250.10,214.42 L250.60,214.48 L251.10,214.54 L251.60,214.59 L252.10,214.64 L252.60,214.70 L253.10,214.75 L253.60,214.80 L254.10,214.85 L254.60,214.90 L255.10,214.95 L255.60,214.99 L256.10,215.04 L256.60,215.09 L257.10,215.13 L257.60,215.18 L258.10,215.22 L258.60,215.27 L259.10,215.31 L259.60,215.35 L260.10,215.40 L260.60,215.44 L261.10,215.48 L261.60,215.52 L262.10,215.57 L262.60,215.61 L263.10,215.65 L263.60,215.69 L264.10,215.74 L264.60,215.78 L265.10,215.82 L265.60,215.87 L266.10,215.91 L266.60,215.96 L267.10,216.00 L267.60,216.05 L268.10,216.09 L268.60,216.14 L269.10,216.18 L269.60,216.23 L270.10,216.28 L270.60,216.32 L271.10,216.37 L271.60,216.42 L272.10,216.46 L272.60,216.51 L273.10,216.56 L273.60,216.60 L274.10,216.65 L274.60,216.70 L275.10,216.74 L275.60,216.79 L276.10,216.84 L276.60,216.88 L277.10,216.93 L277.60,216.98 L278.10,217.03 L278.60,217.07 L279.10,217.12 L279.60,217.17 L280.10,217.21 L280.60,217.26 L281.10,217.30 L281.60,217.35 L282.10,217.39 L282.60,217.44 L283.10,217.48 L283.60,217.53 L284.10,217.57 L284.60,217.62 L285.10,217.66 L285.60,217.70 L286.10,217.75 L286.60,217.79 L287.10,217.83 L287.60,217.87 L288.10,217.91 L288.60,217.95 L289.10,217.99 L289.60,218.03 L290.10,218.07 L290.60,218.11 L291.10,218.15 L291.60,218.18 L292.10,218.22 L292.60,218.26 L293.10,218.29 L293.60,218.33 L294.10,218.36 L294.60,218.39 L295.10,218.43 L295.60,218.46 L296.10,218.49 L296.60,218.52 L297.10,218.55 L297.60,218.58 L298.10,218.61 L298.60,218.63 L299.10,218.66 L299.60,218.69 L300.10,218.71 L300.60,218.73 L301.10,218.76 L301.60,218.78 L302.10,218.80 L302.60,218.82 L303.10,218.84 L303.60,218.86 L304.10,218.87 L304.60,218.89 L305.10,218.90 L305.60,218.92 L306.10,218.93 L306.60,218.94 L307.10,218.95 L307.60,218.96 L308.10,218.97 L308.60,218.98 L309.10,218.98 L309.60,218.98 L310.10,218.99 L310.60,218.99" stroke="#37AD6B"/>
<path d="M38.10,109.80 L38.60,110.38 L39.10,110.95 L39.60,111.52 L40.10,112.09 L40.60,112.65 L41.10,113.20 L41.60,113.75 L42.10,114.29 L42.60,114.83 L43.10,115.37 L43.60,115.90 L44.10,116.42 L44.60,116.94 L45.10,117.45 L45.60,117.96 L46.10,118.47 L46.60,118.97 L47.10,119.46 L47.60,119.95 L48.10,120.44 L48.60,120.92 L49.10,121.40 L49.60,121.87 L50.10,122.33 L50.60,122.79 L51.10,123.25 L51.60,123.70 L52.10,124.15 L52.60,124.59 L53.10,125.03 L53.60,125.46 L54.10,125.89 L54.60,126.31 L55.10,126.73 L55.60,127.14 L56.10,127.55 L56.60,127.95 L57.10,128.35 L57.60,128.74 L58.10,129.12 L58.60,129.50 L59.10,129.88 L59.60,130.25 L60.10,130.61 L60.60,130.97 L61.10,131.33 L61.60,131.67 L62.10,132.02 L62.60,132.35 L63.10,132.68 L63.60,133.01 L64.10,133.33 L64.60,133.65 L65.10,133.95 L65.60,134.26 L66.10,134.56 L66.60,134.85 L67.10,135.13 L67.60,135.41 L68.10,135.69 L68.60,135.96 L69.10,136.22 L69.60,136.47 L70.10,136.73 L70.60,136.97 L71.10,137.21 L71.60,137.44 L72.10,137.67 L72.60,137.89 L73.10,138.10 L73.60,138.31 L74.10,138.51 L74.60,138.70 L75.10,138.89 L75.60,139.08 L76.10,139.25 L76.60,139.42 L77.10,139.58 L77.60,139.74 L78.10,139.89 L78.60,140.04 L79.10,140.17 L79.60,140.30 L80.10,140.43 L80.60,140.55 L81.10,140.66 L81.60,140.76 L82.10,140.86 L82.60,140.95 L83.10,141.04 L83.60,141.12 L84.10,141.19 L84.60,141.26 L85.10,141.33 L85.60,141.38 L86.10,141.44 L86.60,141.48 L87.10,141.53 L87.60,141.56 L88.10,141.59 L88.60,141.62 L89.10,141.64 L89.60,141.66 L90.10,141.68 L90.60,141.69 L91.10,141.69 L91.60,141.69 L92.10,141.69 L92.60,141.68 L93.10,141.67 L93.60,141.66 L94.10,141.64 L94.60,141.62 L95.10,141.59 L95.60,141.57 L96.10,141.53 L96.60,141.50 L97.10,141.46 L97.60,141.42 L98.10,141.38 L98.60,141.34 L99.10,141.29 L99.60,141.24 L100.10,141.19 L100.60,141.14 L101.10,141.08 L101.60,141.02 L102.10,140.96 L102.60,140.90 L103.10,140.84 L103.60,140.78 L104.10,140.71 L104.60,140.65 L105.10,140.58 L105.60,140.51 L106.10,140.44 L106.60,140.37 L107.10,140.29 L107.60,140.21 L108.10,140.13 L108.60,140.05 L109.10,139.96 L109.60,139.87 L110.10,139.78 L110.60,139.68 L111.10,139.58 L111.60,139.48 L112.10,139.37 L112.60,139.25 L113.10,139.13 L113.60,139.01 L114.10,138.88 L114.60,138.75 L115.10,138.61 L115.60,138.46 L116.10,138.31 L116.60,138.15 L117.10,137.98 L117.60,137.81 L118.10,137.64 L118.60,137.45 L119.10,137.26 L119.60,137.06 L120.10,136.85 L120.60,136.64 L121.10,136.41 L121.60,136.18 L122.10,135.94 L122.60,135.69 L123.10,135.43 L123.60,135.16 L124.10,134.88 L124.60,134.59 L125.10,134.28 L125.60,133.97 L126.10,133.63 L126.60,133.29 L127.10,132.92 L127.60,132.54 L128.10,132.14 L128.60,131.73 L129.10,131.29 L129.60,130.84 L130.10,130.37 L130.60,129.87 L131.10,129.36 L131.60,128.82 L132.10,128.27 L132.60,127.69 L133.10,127.09 L133.60,126.47 L134.10,125.83 L134.60,125.16 L135.10,124.47 L135.60,123.76 L136.10,123.04 L136.60,122.29 L137.10,121.54 L137.60,120.77 L138.10,120.00 L138.60,119.23 L139.10,118.46 L139.60,117.70 L140.10,116.94 L140.60,116.19 L141.10,115.46 L141.60,114.75 L142.10,114.06 L142.60,113.38 L143.10,112.74 L143.60,112.11 L144.10,111.52 L144.60,110.95 L145.10,110.41 L145.60,109.91 L146.10,109.44 L146.60,109.01 L147.10,108.61 L147.60,108.26 L148.10,107.95 L148.60,107.68 L149.10,107.45 L149.60,107.28 L150.10,107.15 L150.60,107.08 L151.10,107.06 L151.60,107.10 L152.10,107.19 L152.60,107.35 L153.10,107.56 L153.60,107.84 L154.10,108.18 L154.60,108.57 L155.10,109.01 L155.60,109.50 L156.10,110.03 L156.60,110.60 L157.10,111.20 L157.60,111.83 L158.10,112.49 L158.60,113.17 L159.10,113.87 L159.60,114.58 L160.10,115.30 L160.60,116.04 L161.10,116.80 L161.60,117.58 L162.10,118.38 L162.60,119.20 L163.10,120.04 L163.60,120.90 L164.10,121.79 L164.60,122.70 L165.10,123.64 L165.60,124.61 L166.10,125.59 L166.60,126.60 L167.10,127.62 L167.60,128.65 L168.10,129.68 L168.60,130.71 L169.10,131.75 L169.60,132.77 L170.10,133.78 L170.60,134.78 L171.10,135.75 L171.60,136.71 L172.10,137.64 L172.60,138.56 L173.10,139.46 L173.60,140.36 L174.10,141.25 L174.60,142.13 L175.10,143.01 L175.60,143.90 L176.10,144.79 L176.60,145.69 L177.10,146.60 L177.60,147.53 L178.10,148.47 L178.60,149.42 L179.10,150.38 L179.60,151.35 L180.10,152.33 L180.60,153.32 L181.10,154.30 L181.60,155.30 L182.10,156.29 L182.60,157.29 L183.10,158.28 L183.60,159.27 L184.10,160.26 L184.60,161.24 L185.10,162.22 L185.60,163.19 L186.10,164.15 L186.60,165.11 L187.10,166.05 L187.60,166.99 L188.10,167.92 L188.60,168.83 L189.10,169.74 L189.60,170.63 L190.10,171.50 L190.60,172.37 L191.10,173.21 L191.60,174.05 L192.10,174.86 L192.60,175.67 L193.10,176.45 L193.60,177.23 L194.10,177.99 L194.60,178.74 L195.10,179.48 L195.60,180.20 L196.10,180.92 L196.60,181.62 L197.10,182.32 L197.60,183.00 L198.10,183.68 L198.60,184.34 L199.10,185.00 L199.60,185.66 L200.10,186.30 L200.60,186.94 L201.10,187.56 L201.60,188.18 L202.10,188.79 L202.60,189.40 L203.10,189.99 L203.60,190.57 L204.10,191.15 L204.60,191.71 L205.10,192.27 L205.60,192.81 L206.10,193.35 L206.60,193.87 L207.10,194.38 L207.60,194.88 L208.10,195.38 L208.60,195.86 L209.10,196.33 L209.60,196.78 L210.10,197.23 L210.60,197.67 L211.10,198.09 L211.60,198.51 L212.10,198.91 L212.60,199.31 L213.10,199.69 L213.60,200.06 L214.10,200.43 L214.60,200.78 L215.10,201.12 L215.60,201.46 L216.10,201.78 L216.60,202.10 L217.10,202.40 L217.60,202.70 L218.10,202.98 L218.60,203.26 L219.10,203.53 L219.60,203.79 L220.10,204.04 L220.60,204.28 L221.10,204.52 L221.60,204.75 L222.10,204.97 L222.60,205.18 L223.10,205.39 L223.60,205.59 L224.10,205.79 L224.60,205.98 L225.10,206.17 L225.60,206.35 L226.10,206.52 L226.60,206.69 L227.10,206.86 L227.60,207.02 L228.10,207.18 L228.60,207.34 L229.10,207.49 L229.60,207.64 L230.10,207.79 L230.60,207.94 L231.10,208.08 L231.60,208.22 L232.10,208.36 L232.60,208.50 L233.10,208.63 L233.60,208.77 L234.10,208.90 L234.60,209.03 L235.10,209.15 L235.60,209.28 L236.10,209.40 L236.60,209.52 L237.10,209.64 L237.60,209.76 L238.10,209.87 L238.60,209.98 L239.10,210.09 L239.60,210.20 L240.10,210.31 L240.60,210.41 L241.10,210.51 L241.60,210.61 L242.10,210.71 L242.60,210.81 L243.10,210.90 L243.60,210.99 L244.10,211.08 L244.60,211.17 L245.10,211.26 L245.60,211.34 L246.10,211.42 L246.60,211.50 L247.10,211.58 L247.60,211.66 L248.10,211.73 L248.60,211.81 L249.10,211.88 L249.60,211.95 L250.10,212.02 L250.60,212.08 L251.10,212.15 L251.60,212.21 L252.10,212.28 L252.60,212.34 L253.10,212.40 L253.60,212.46 L254.10,212.52 L254.60,212.58 L255.10,212.64 L255.60,212.70 L256.10,212.75 L256.60,212.81 L257.10,212.87 L257.60,212.92 L258.10,212.97 L258.60,213.03 L259.10,213.08 L259.60,213.14 L260.10,213.19 L260.60,213.24 L261.10,213.30 L261.60,213.35 L262.10,213.40 L262.60,213.45 L263.10,213.51 L263.60,213.56 L264.10,213.62 L264.60,213.67 L265.10,213.72 L265.60,213.78 L266.10,213.84 L266.60,213.89 L267.10,213.95 L267.60,214.00 L268.10,214.06 L268.60,214.12 L269.10,214.18 L269.60,214.24 L270.10,214.29 L270.60,214.35 L271.10,214.41 L271.60,214.47 L272.10,214.53 L272.60,214.59 L273.10,214.65 L273.60,214.71 L274.10,214.77 L274.60,214.83 L275.10,214.89 L275.60,214.95 L276.10,215.01 L276.60,215.07 L277.10,215.13 L277.60,215.19 L278.10,215.25 L278.60,215.31 L279.10,215.37 L279.60,215.43 L280.10,215.49 L280.60,215.55 L281.10,215.61 L281.60,215.67 L282.10,215.72 L282.60,215.78 L283.10,215.84 L283.60,215.90 L284.10,215.96 L284.60,216.01 L285.10,216.07 L285.60,216.13 L286.10,216.18 L286.60,216.24 L287.10,216.29 L287.60,216.35 L288.10,216.40 L288.60,216.46 L289.10,216.51 L289.60,216.56 L290.10,216.61 L290.60,216.67 L291.10,216.72 L291.60,216.77 L292.10,216.82 L292.60,216.87 L293.10,216.91 L293.60,216.96 L294.10,217.01 L294.60,217.05 L295.10,217.10 L295.60,217.14 L296.10,217.19 L296.60,217.23 L297.10,217.27 L297.60,217.31 L298.10,217.35 L298.60,217.39 L299.10,217.43 L299.60,217.47 L300.10,217.50 L300.60,217.54 L301.10,217.57 L301.60,217.60 L302.10,217.64 L302.60,217.67 L303.10,217.70 L303.60,217.73 L304.10,217.75 L304.60,217.78 L305.10,217.80 L305.60,217.83 L306.10,217.85 L306.60,217.87 L307.10,217.89 L307.60,217.91 L308.10,217.93 L308.60,217.94 L309.10,217.96 L309.60,217.97 L310.10,217.98 L310.60,217.99" stroke="#B177DE"/>
<path d="M38.10,112.28 L38.60,113.10 L39.10,113.89 L39.60,114.65 L40.10,115.37 L40.60,116.06 L41.10,116.72 L41.60,117.36 L42.10,117.96 L42.60,118.55 L43.10,119.11 L43.60,119.65 L44.10,120.18 L44.60,120.68 L45.10,121.17 L45.60,121.65 L46.10,122.12 L46.60,122.58 L47.10,123.03 L47.60,123.48 L48.10,123.92 L48.60,124.36 L49.10,124.80 L49.60,125.24 L50.10,125.67 L50.60,126.10 L51.10,126.53 L51.60,126.96 L52.10,127.38 L52.60,127.80 L53.10,128.22 L53.60,128.63 L54.10,129.04 L54.60,129.45 L55.10,129.86 L55.60,130.26 L56.10,130.66 L56.60,131.05 L57.10,131.45 L57.60,131.83 L58.10,132.22 L58.60,132.60 L59.10,132.98 L59.60,133.35 L60.10,133.72 L60.60,134.08 L61.10,134.44 L61.60,134.80 L62.10,135.15 L62.60,135.50 L63.10,135.84 L63.60,136.18 L64.10,136.52 L64.60,136.85 L65.10,137.17 L65.60,137.49 L66.10,137.81 L66.60,138.12 L67.10,138.42 L67.60,138.72 L68.10,139.01 L68.60,139.30 L69.10,139.58 L69.60,139.86 L70.10,140.13 L70.60,140.40 L71.10,140.66 L71.60,140.92 L72.10,141.16 L72.60,141.41 L73.10,141.64 L73.60,141.87 L74.10,142.10 L74.60,142.32 L75.10,142.53 L75.60,142.73 L76.10,142.93 L76.60,143.12 L77.10,143.31 L77.60,143.48 L78.10,143.65 L78.60,143.82 L79.10,143.97 L79.60,144.12 L80.10,144.27 L80.60,144.40 L81.10,144.53 L81.60,144.65 L82.10,144.76 L82.60,144.87 L83.10,144.97 L83.60,145.07 L84.10,145.16 L84.60,145.24 L85.10,145.31 L85.60,145.39 L86.10,145.45 L86.60,145.51 L87.10,145.56 L87.60,145.61 L88.10,145.66 L88.60,145.70 L89.10,145.73 L89.60,145.76 L90.10,145.79 L90.60,145.81 L91.10,145.82 L91.60,145.84 L92.10,145.85 L92.60,145.85 L93.10,145.85 L93.60,145.85 L94.10,145.85 L94.60,145.84 L95.10,145.83 L95.60,145.82 L96.10,145.80 L96.60,145.78 L97.10,145.76 L97.60,145.74 L98.10,145.71 L98.60,145.69 L99.10,145.66 L99.60,145.63 L100.10,145.60 L100.60,145.57 L101.10,145.53 L101.60,145.50 L102.10,145.46 L102.60,145.43 L103.10,145.39 L103.60,145.35 L104.10,145.32 L104.60,145.28 L105.10,145.24 L105.60,145.20 L106.10,145.17 L106.60,145.13 L107.10,145.09 L107.60,145.05 L108.10,145.01 L108.60,144.98 L109.10,144.94 L109.60,144.90 L110.10,144.86 L110.60,144.82 L111.10,144.78 L111.60,144.74 L112.10,144.69 L112.60,144.65 L113.10,144.61 L113.60,144.57 L114.10,144.52 L114.60,144.48 L115.10,144.43 L115.60,144.39 L116.10,144.34 L116.60,144.29 L117.10,144.25 L117.60,144.20 L118.10,144.15 L118.60,144.10 L119.10,144.05 L119.60,143.99 L120.10,143.94 L120.60,143.89 L121.10,143.83 L121.60,143.77 L122.10,143.72 L122.60,143.66 L123.10,143.60 L123.60,143.53 L124.10,143.46 L124.60,143.38 L125.10,143.30 L125.60,143.20 L126.10,143.10 L126.60,142.98 L127.10,142.85 L127.60,142.71 L128.10,142.54 L128.60,142.37 L129.10,142.17 L129.60,141.95 L130.10,141.71 L130.60,141.45 L131.10,141.16 L131.60,140.85 L132.10,140.51 L132.60,140.14 L133.10,139.74 L133.60,139.31 L134.10,138.84 L134.60,138.34 L135.10,137.80 L135.60,137.22 L136.10,136.61 L136.60,135.97 L137.10,135.30 L137.60,134.59 L138.10,133.87 L138.60,133.12 L139.10,132.35 L139.60,131.57 L140.10,130.77 L140.60,129.95 L141.10,129.13 L141.60,128.30 L142.10,127.46 L142.60,126.63 L143.10,125.79 L143.60,124.95 L144.10,124.12 L144.60,123.29 L145.10,122.47 L145.60,121.66 L146.10,120.87 L146.60,120.09 L147.10,119.32 L147.60,118.58 L148.10,117.85 L148.60,117.15 L149.10,116.47 L149.60,115.81 L150.10,115.17 L150.60,114.56 L151.10,113.98 L151.60,113.42 L152.10,112.89 L152.60,112.38 L153.10,111.90 L153.60,111.46 L154.10,111.04 L154.60,110.66 L155.10,110.30 L155.60,109.98 L156.10,109.68 L156.60,109.42 L157.10,109.19 L157.60,108.99 L158.10,108.82 L158.60,108.69 L159.10,108.59 L159.60,108.52 L160.10,108.49 L160.60,108.49 L161.10,108.52 L161.60,108.59 L162.10,108.70 L162.60,108.84 L163.10,109.01 L163.60,109.23 L164.10,109.48 L164.60,109.77 L165.10,110.09 L165.60,110.46 L166.10,110.86 L166.60,111.29 L167.10,111.75 L167.60,112.23 L168.10,112.74 L168.60,113.27 L169.10,113.81 L169.60,114.36 L170.10,114.93 L170.60,115.50 L171.10,116.07 L171.60,116.65 L172.10,117.23 L172.60,117.82 L173.10,118.42 L173.60,119.04 L174.10,119.68 L174.60,120.34 L175.10,121.02 L175.60,121.73 L176.10,122.48 L176.60,123.26 L177.10,124.08 L177.60,124.95 L178.10,125.85 L178.60,126.78 L179.10,127.74 L179.60,128.73 L180.10,129.75 L180.60,130.78 L181.10,131.82 L181.60,132.88 L182.10,133.94 L182.60,135.01 L183.10,136.07 L183.60,137.14 L184.10,138.19 L184.60,139.23 L185.10,140.26 L185.60,141.29 L186.10,142.30 L186.60,143.30 L187.10,144.30 L187.60,145.28 L188.10,146.27 L188.60,147.24 L189.10,148.21 L189.60,149.17 L190.10,150.13 L190.60,151.08 L191.10,152.03 L191.60,152.98 L192.10,153.92 L192.60,154.86 L193.10,155.80 L193.60,156.73 L194.10,157.66 L194.60,158.58 L195.10,159.50 L195.60,160.41 L196.10,161.33 L196.60,162.23 L197.10,163.13 L197.60,164.03 L198.10,164.92 L198.60,165.81 L199.10,166.69 L199.60,167.56 L200.10,168.43 L200.60,169.30 L201.10,170.15 L201.60,171.01 L202.10,171.85 L202.60,172.70 L203.10,173.53 L203.60,174.36 L204.10,175.19 L204.60,176.01 L205.10,176.82 L205.60,177.63 L206.10,178.43 L206.60,179.23 L207.10,180.02 L207.60,180.80 L208.10,181.58 L208.60,182.36 L209.10,183.12 L209.60,183.88 L210.10,184.63 L210.60,185.37 L211.10,186.11 L211.60,186.82 L212.10,187.53 L212.60,188.23 L213.10,188.91 L213.60,189.57 L214.10,190.23 L214.60,190.86 L215.10,191.48 L215.60,192.08 L216.10,192.66 L216.60,193.22 L217.10,193.76 L217.60,194.28 L218.10,194.78 L218.60,195.25 L219.10,195.70 L219.60,196.13 L220.10,196.55 L220.60,196.94 L221.10,197.32 L221.60,197.67 L222.10,198.02 L222.60,198.35 L223.10,198.66 L223.60,198.97 L224.10,199.26 L224.60,199.54 L225.10,199.82 L225.60,200.08 L226.10,200.34 L226.60,200.59 L227.10,200.84 L227.60,201.08 L228.10,201.32 L228.60,201.56 L229.10,201.80 L229.60,202.04 L230.10,202.28 L230.60,202.52 L231.10,202.77 L231.60,203.01 L232.10,203.26 L232.60,203.51 L233.10,203.76 L233.60,204.01 L234.10,204.25 L234.60,204.50 L235.10,204.75 L235.60,205.00 L236.10,205.25 L236.60,205.49 L237.10,205.74 L237.60,205.98 L238.10,206.22 L238.60,206.45 L239.10,206.69 L239.60,206.92 L240.10,207.15 L240.60,207.37 L241.10,207.59 L241.60,207.81 L242.10,208.02 L242.60,208.22 L243.10,208.42 L243.60,208.62 L244.10,208.81 L244.60,208.99 L245.10,209.17 L245.60,209.34 L246.10,209.50 L246.60,209.66 L247.10,209.81 L247.60,209.95 L248.10,210.09 L248.60,210.23 L249.10,210.36 L249.60,210.48 L250.10,210.60 L250.60,210.71 L251.10,210.82 L251.60,210.93 L252.10,211.03 L252.60,211.12 L253.10,211.22 L253.60,211.31 L254.10,211.39 L254.60,211.47 L255.10,211.55 L255.60,211.63 L256.10,211.70 L256.60,211.77 L257.10,211.84 L257.60,211.91 L258.10,211.97 L258.60,212.03 L259.10,212.10 L259.60,212.15 L260.10,212.21 L260.60,212.27 L261.10,212.33 L261.60,212.38 L262.10,212.44 L262.60,212.49 L263.10,212.55 L263.60,212.60 L264.10,212.65 L264.60,212.71 L265.10,212.77 L265.60,212.82 L266.10,212.88 L266.60,212.94 L267.10,212.99 L267.60,213.05 L268.10,213.11 L268.60,213.17 L269.10,213.23 L269.60,213.29 L270.10,213.36 L270.60,213.42 L271.10,213.48 L271.60,213.54 L272.10,213.61 L272.60,213.67 L273.10,213.73 L273.60,213.80 L274.10,213.86 L274.60,213.93 L275.10,213.99 L275.60,214.06 L276.10,214.12 L276.60,214.19 L277.10,214.25 L277.60,214.31 L278.10,214.38 L278.60,214.44 L279.10,214.51 L279.60,214.57 L280.10,214.64 L280.60,214.70 L281.10,214.77 L281.60,214.83 L282.10,214.90 L282.60,214.96 L283.10,215.02 L283.60,215.09 L284.10,215.15 L284.60,215.21 L285.10,215.27 L285.60,215.33 L286.10,215.39 L286.60,215.45 L287.10,215.51 L287.60,215.57 L288.10,215.63 L288.60,215.69 L289.10,215.75 L289.60,215.80 L290.10,215.86 L290.60,215.92 L291.10,215.97 L291.60,216.02 L292.10,216.08 L292.60,216.13 L293.10,216.18 L293.60,216.23 L294.10,216.28 L294.60,216.33 L295.10,216.38 L295.60,216.42 L296.10,216.47 L296.60,216.51 L297.10,216.56 L297.60,216.60 L298.10,216.64 L298.60,216.68 L299.10,216.72 L299.60,216.75 L300.10,216.79 L300.60,216.82 L301.10,216.86 L301.60,216.89 L302.10,216.92 L302.60,216.95 L303.10,216.97 L303.60,217.00 L304.10,217.03 L304.60,217.05 L305.10,217.07 L305.60,217.09 L306.10,217.11 L306.60,217.12 L307.10,217.14 L307.60,217.15 L308.10,217.16 L308.60,217.17 L309.10,217.18 L309.60,217.19 L310.10,217.19 L310.60,217.19" stroke="#CC9900"/>
<path d="M38.10,117.50 L38.60,118.10 L39.10,118.69 L39.60,119.28 L40.10,119.85 L40.60,120.42 L41.10,120.98 L41.60,121.54 L42.10,122.08 L42.60,122.62 L43.10,123.16 L43.60,123.68 L44.10,124.20 L44.60,124.71 L45.10,125.21 L45.60,125.71 L46.10,126.20 L46.60,126.68 L47.10,127.16 L47.60,127.63 L48.10,128.10 L48.60,128.56 L49.10,129.01 L49.60,129.46 L50.10,129.90 L50.60,130.33 L51.10,130.76 L51.60,131.19 L52.10,131.61 L52.60,132.02 L53.10,132.43 L53.60,132.83 L54.10,133.23 L54.60,133.62 L55.10,134.01 L55.60,134.39 L56.10,134.77 L56.60,135.15 L57.10,135.52 L57.60,135.88 L58.10,136.25 L58.60,136.60 L59.10,136.96 L59.60,137.31 L60.10,137.65 L60.60,137.99 L61.10,138.33 L61.60,138.66 L62.10,138.99 L62.60,139.31 L63.10,139.63 L63.60,139.95 L64.10,140.26 L64.60,140.56 L65.10,140.86 L65.60,141.16 L66.10,141.45 L66.60,141.74 L67.10,142.02 L67.60,142.30 L68.10,142.57 L68.60,142.84 L69.10,143.10 L69.60,143.36 L70.10,143.62 L70.60,143.86 L71.10,144.11 L71.60,144.35 L72.10,144.58 L72.60,144.81 L73.10,145.03 L73.60,145.25 L74.10,145.47 L74.60,145.68 L75.10,145.88 L75.60,146.08 L76.10,146.27 L76.60,146.46 L77.10,146.64 L77.60,146.82 L78.10,146.99 L78.60,147.15 L79.10,147.31 L79.60,147.47 L80.10,147.62 L80.60,147.76 L81.10,147.90 L81.60,148.03 L82.10,148.16 L82.60,148.28 L83.10,148.40 L83.60,148.51 L84.10,148.62 L84.60,148.72 L85.10,148.82 L85.60,148.91 L86.10,149.00 L86.60,149.08 L87.10,149.15 L87.60,149.23 L88.10,149.29 L88.60,149.36 L89.10,149.41 L89.60,149.47 L90.10,149.52 L90.60,149.56 L91.10,149.60 L91.60,149.64 L92.10,149.67 L92.60,149.70 L93.10,149.72 L93.60,149.74 L94.10,149.75 L94.60,149.77 L95.10,149.77 L95.60,149.78 L96.10,149.77 L96.60,149.77 L97.10,149.76 L97.60,149.75 L98.10,149.73 L98.60,149.72 L99.10,149.69 L99.60,149.67 L100.10,149.64 L100.60,149.60 L101.10,149.57 L101.60,149.53 L102.10,149.49 L102.60,149.44 L103.10,149.39 L103.60,149.34 L104.10,149.28 L104.60,149.23 L105.10,149.17 L105.60,149.11 L106.10,149.04 L106.60,148.98 L107.10,148.92 L107.60,148.86 L108.10,148.80 L108.60,148.74 L109.10,148.68 L109.60,148.63 L110.10,148.58 L110.60,148.54 L111.10,148.50 L111.60,148.46 L112.10,148.44 L112.60,148.42 L113.10,148.40 L113.60,148.40 L114.10,148.40 L114.60,148.41 L115.10,148.43 L115.60,148.46 L116.10,148.49 L116.60,148.53 L117.10,148.57 L117.60,148.61 L118.10,148.66 L118.60,148.71 L119.10,148.75 L119.60,148.80 L120.10,148.84 L120.60,148.88 L121.10,148.91 L121.60,148.94 L122.10,148.96 L122.60,148.97 L123.10,148.98 L123.60,148.98 L124.10,148.97 L124.60,148.96 L125.10,148.94 L125.60,148.91 L126.10,148.88 L126.60,148.84 L127.10,148.79 L127.60,148.74 L128.10,148.68 L128.60,148.62 L129.10,148.56 L129.60,148.48 L130.10,148.40 L130.60,148.31 L131.10,148.20 L131.60,148.07 L132.10,147.92 L132.60,147.75 L133.10,147.55 L133.60,147.31 L134.10,147.04 L134.60,146.74 L135.10,146.39 L135.60,146.00 L136.10,145.57 L136.60,145.10 L137.10,144.59 L137.60,144.05 L138.10,143.47 L138.60,142.86 L139.10,142.21 L139.60,141.54 L140.10,140.84 L140.60,140.12 L141.10,139.37 L141.60,138.60 L142.10,137.81 L142.60,137.00 L143.10,136.17 L143.60,135.33 L144.10,134.47 L144.60,133.60 L145.10,132.72 L145.60,131.83 L146.10,130.94 L146.60,130.04 L147.10,129.14 L147.60,128.23 L148.10,127.33 L148.60,126.42 L149.10,125.52 L149.60,124.63 L150.10,123.75 L150.60,122.88 L151.10,122.02 L151.60,121.18 L152.10,120.35 L152.60,119.55 L153.10,118.77 L153.60,118.01 L154.10,117.28 L154.60,116.57 L155.10,115.89 L155.60,115.24 L156.10,114.63 L156.60,114.04 L157.10,113.49 L157.60,112.98 L158.10,112.50 L158.60,112.06 L159.10,111.67 L159.60,111.31 L160.10,110.99 L160.60,110.70 L161.10,110.46 L161.60,110.24 L162.10,110.06 L162.60,109.91 L163.10,109.79 L163.60,109.70 L164.10,109.63 L164.60,109.59 L165.10,109.56 L165.60,109.56 L166.10,109.58 L166.60,109.63 L167.10,109.69 L167.60,109.78 L168.10,109.90 L168.60,110.04 L169.10,110.21 L169.60,110.40 L170.10,110.63 L170.60,110.88 L171.10,111.16 L171.60,111.47 L172.10,111.80 L172.60,112.17 L173.10,112.57 L173.60,113.00 L174.10,113.45 L174.60,113.94 L175.10,114.45 L175.60,114.99 L176.10,115.56 L176.60,116.16 L177.10,116.78 L177.60,117.43 L178.10,118.11 L178.60,118.81 L179.10,119.54 L179.60,120.29 L180.10,121.07 L180.60,121.86 L181.10,122.68 L181.60,123.52 L182.10,124.37 L182.60,125.24 L183.10,126.13 L183.60,127.04 L184.10,127.96 L184.60,128.89 L185.10,129.84 L185.60,130.80 L186.10,131.76 L186.60,132.74 L187.10,133.73 L187.60,134.72 L188.10,135.71 L188.60,136.71 L189.10,137.72 L189.60,138.72 L190.10,139.72 L190.60,140.73 L191.10,141.73 L191.60,142.72 L192.10,143.72 L192.60,144.71 L193.10,145.69 L193.60,146.67 L194.10,147.64 L194.60,148.61 L195.10,149.58 L195.60,150.53 L196.10,151.49 L196.60,152.43 L197.10,153.37 L197.60,154.30 L198.10,155.23 L198.60,156.15 L199.10,157.06 L199.60,157.96 L200.10,158.85 L200.60,159.74 L201.10,160.62 L201.60,161.50 L202.10,162.37 L202.60,163.23 L203.10,164.09 L203.60,164.95 L204.10,165.80 L204.60,166.65 L205.10,167.50 L205.60,168.34 L206.10,169.18 L206.60,170.02 L207.10,170.86 L207.60,171.70 L208.10,172.54 L208.60,173.37 L209.10,174.21 L209.60,175.05 L210.10,175.88 L210.60,176.71 L211.10,177.53 L211.60,178.35 L212.10,179.16 L212.60,179.96 L213.10,180.76 L213.60,181.54 L214.10,182.32 L214.60,183.08 L215.10,183.83 L215.60,184.57 L216.10,185.30 L216.60,186.01 L217.10,186.70 L217.60,187.38 L218.10,188.04 L218.60,188.68 L219.10,189.30 L219.60,189.91 L220.10,190.50 L220.60,191.07 L221.10,191.63 L221.60,192.17 L222.10,192.70 L222.60,193.21 L223.10,193.71 L223.60,194.20 L224.10,194.67 L224.60,195.14 L225.10,195.59 L225.60,196.03 L226.10,196.46 L226.60,196.88 L227.10,197.29 L227.60,197.69 L228.10,198.08 L228.60,198.47 L229.10,198.84 L229.60,199.22 L230.10,199.58 L230.60,199.94 L231.10,200.30 L231.60,200.64 L232.10,200.99 L232.60,201.32 L233.10,201.65 L233.60,201.98 L234.10,202.30 L234.60,202.61 L235.10,202.92 L235.60,203.22 L236.10,203.51 L236.60,203.80 L237.10,204.09 L237.60,204.37 L238.10,204.64 L238.60,204.90 L239.10,205.16 L239.60,205.41 L240.10,205.66 L240.60,205.90 L241.10,206.14 L241.60,206.37 L242.10,206.59 L242.60,206.80 L243.10,207.01 L243.60,207.22 L244.10,207.42 L244.60,207.61 L245.10,207.79 L245.60,207.97 L246.10,208.14 L246.60,208.31 L247.10,208.47 L247.60,208.63 L248.10,208.77 L248.60,208.92 L249.10,209.06 L249.60,209.19 L250.10,209.32 L250.60,209.45 L251.10,209.57 L251.60,209.68 L252.10,209.80 L252.60,209.90 L253.10,210.01 L253.60,210.11 L254.10,210.21 L254.60,210.30 L255.10,210.39 L255.60,210.48 L256.10,210.57 L256.60,210.65 L257.10,210.73 L257.60,210.81 L258.10,210.89 L258.60,210.96 L259.10,211.04 L259.60,211.11 L260.10,211.18 L260.60,211.25 L261.10,211.31 L261.60,211.38 L262.10,211.45 L262.60,211.52 L263.10,211.58 L263.60,211.65 L264.10,211.71 L264.60,211.78 L265.10,211.85 L265.60,211.91 L266.10,211.98 L266.60,212.05 L267.10,212.12 L267.60,212.19 L268.10,212.25 L268.60,212.32 L269.10,212.39 L269.60,212.46 L270.10,212.54 L270.60,212.61 L271.10,212.68 L271.60,212.75 L272.10,212.82 L272.60,212.89 L273.10,212.96 L273.60,213.03 L274.10,213.11 L274.60,213.18 L275.10,213.25 L275.60,213.32 L276.10,213.39 L276.60,213.46 L277.10,213.53 L277.60,213.61 L278.10,213.68 L278.60,213.75 L279.10,213.82 L279.60,213.89 L280.10,213.96 L280.60,214.03 L281.10,214.10 L281.60,214.17 L282.10,214.24 L282.60,214.30 L283.10,214.37 L283.60,214.44 L284.10,214.51 L284.60,214.57 L285.10,214.64 L285.60,214.70 L286.10,214.77 L286.60,214.83 L287.10,214.89 L287.60,214.96 L288.10,215.02 L288.60,215.08 L289.10,215.14 L289.60,215.20 L290.10,215.26 L290.60,215.32 L291.10,215.37 L291.60,215.43 L292.10,215.48 L292.60,215.54 L293.10,215.59 L293.60,215.64 L294.10,215.69 L294.60,215.74 L295.10,215.79 L295.60,215.84 L296.10,215.88 L296.60,215.93 L297.10,215.97 L297.60,216.02 L298.10,216.06 L298.60,216.10 L299.10,216.14 L299.60,216.17 L300.10,216.21 L300.60,216.24 L301.10,216.28 L301.60,216.31 L302.10,216.34 L302.60,216.37 L303.10,216.39 L303.60,216.42 L304.10,216.44 L304.60,216.47 L305.10,216.49 L305.60,216.51 L306.10,216.52 L306.60,216.54 L307.10,216.55 L307.60,216.56 L308.10,216.57 L308.60,216.58 L309.10,216.59 L309.60,216.59 L310.10,216.59 L310.60,216.59" stroke="#00CBCC"/>
</g>
<rect x="39.60" y="5.70" width="271.60" height="217.90" fill="none" stroke="#000" stroke-width="1.5"/>
<path d="M39.60,223.60H43.60M39.60,198.81H41.50M39.60,174.02H43.60M39.60,149.24H41.50M39.60,124.45H43.60M39.60,99.66H41.50M39.60,74.87H43.60M39.60,50.09H41.50M39.60,25.30H43.60M39.60,223.60V219.60M76.30,223.60V221.70M113.00,223.60V219.60M149.70,223.60V221.70M186.40,223.60V219.60M223.10,223.60V221.70M259.80,223.60V219.60M296.50,223.60V221.70" stroke="#000" stroke-width="1.3" fill="none"/>
<text x="34.3" y="227.05" text-anchor="end" class="b11">0.0</text>
<text x="34.3" y="177.47" text-anchor="end" class="b11">0.5</text>
<text x="34.3" y="127.90" text-anchor="end" class="b11">1.0</text>
<text x="34.3" y="78.32" text-anchor="end" class="b11">1.5</text>
<text x="34.3" y="28.75" text-anchor="end" class="b11">2.0</text>
<text x="39.60" y="237.2" text-anchor="middle" class="b11">400</text>
<text x="113.00" y="237.2" text-anchor="middle" class="b11">500</text>
<text x="186.40" y="237.2" text-anchor="middle" class="b11">600</text>
<text x="259.80" y="237.2" text-anchor="middle" class="b11">700</text>
<text x="121.4" y="254.9" class="b13" style="font-size:13.2px" textLength="107.6" lengthAdjust="spacingAndGlyphs">Wavelength (nm)</text>
<text transform="translate(11.9,114.0) rotate(-90)" text-anchor="middle" class="b13" style="font-size:13.3px" textLength="70.6" lengthAdjust="spacingAndGlyphs">Absorption</text>
<text x="0.4" y="14.6" class="b14p" textLength="16.6" lengthAdjust="spacingAndGlyphs">(a)</text>
<line x1="238.3" x2="265.8" y1="22.70" y2="22.70" stroke="#515151" stroke-width="1.4"/>
<text x="268.6" y="26.80" class="b11">0.00</text>
<line x1="238.3" x2="265.8" y1="37.05" y2="37.05" stroke="#F14040" stroke-width="1.4"/>
<text x="268.6" y="41.15" class="b11">18.75</text>
<line x1="238.3" x2="265.8" y1="51.40" y2="51.40" stroke="#1A6FDF" stroke-width="1.4"/>
<text x="268.6" y="55.50" class="b11">37.50</text>
<line x1="238.3" x2="265.8" y1="65.75" y2="65.75" stroke="#37AD6B" stroke-width="1.4"/>
<text x="268.6" y="69.85" class="b11">56.25</text>
<line x1="238.3" x2="265.8" y1="80.10" y2="80.10" stroke="#B177DE" stroke-width="1.4"/>
<text x="268.6" y="84.20" class="b11">75.00</text>
<line x1="238.3" x2="265.8" y1="94.45" y2="94.45" stroke="#CC9900" stroke-width="1.4"/>
<text x="268.6" y="98.55" class="b11">93.75</text>
<line x1="238.3" x2="265.8" y1="108.80" y2="108.80" stroke="#00CBCC" stroke-width="1.4"/>
<text x="268.6" y="112.90" class="b11">112.5</text>
<text x="238.6" y="127.3" style="font-size:8.6px;font-weight:bold">CFU mL<tspan dy="-3.2" style="font-size:6px">-1</tspan><tspan dy="3.2"> × 10</tspan><tspan dy="-3.2" style="font-size:6px">6</tspan></text>
<rect x="401.80" y="5.40" width="271.60" height="218.40" fill="none" stroke="#000" stroke-width="1.5"/>
<path d="M401.80,223.80H405.80M401.80,205.60H403.70M401.80,187.40H405.80M401.80,169.20H403.70M401.80,151.00H405.80M401.80,132.80H403.70M401.80,114.60H405.80M401.80,96.40H403.70M401.80,78.20H405.80M401.80,60.00H403.70M401.80,41.80H405.80M401.80,23.60H403.70M401.80,5.40H405.80M401.80,223.80V219.80M422.73,223.80V221.90M443.65,223.80V219.80M464.57,223.80V221.90M485.50,223.80V219.80M506.43,223.80V221.90M527.35,223.80V219.80M548.27,223.80V221.90M569.20,223.80V219.80M590.12,223.80V221.90M611.05,223.80V219.80M631.98,223.80V221.90M652.90,223.80V219.80M673.83,223.80V221.90" stroke="#000" stroke-width="1.3" fill="none"/>
<text x="396.4" y="227.40" text-anchor="end" class="b11">110</text>
<text x="396.4" y="191.00" text-anchor="end" class="b11">120</text>
<text x="396.4" y="154.60" text-anchor="end" class="b11">130</text>
<text x="396.4" y="118.20" text-anchor="end" class="b11">140</text>
<text x="396.4" y="81.80" text-anchor="end" class="b11">150</text>
<text x="396.4" y="45.40" text-anchor="end" class="b11">160</text>
<text x="396.4" y="9.00" text-anchor="end" class="b11">170</text>
<text x="401.80" y="237.6" text-anchor="middle" class="b11">0</text>
<text x="443.65" y="237.6" text-anchor="middle" class="b11">20</text>
<text x="485.50" y="237.6" text-anchor="middle" class="b11">40</text>
<text x="527.35" y="237.6" text-anchor="middle" class="b11">60</text>
<text x="569.20" y="237.6" text-anchor="middle" class="b11">80</text>
<text x="611.05" y="237.6" text-anchor="middle" class="b11">100</text>
<text x="652.90" y="237.6" text-anchor="middle" class="b11">120</text>
<text x="664.0" y="236.0" class="b11" style="font-size:9px">*</text>
<text x="668.7" y="237.4" class="b11">10</text>
<text x="680.6" y="232.3" class="b11" style="font-size:7.6px">6</text>
<path d="M441.03,190.93V205.71M438.43,190.93H443.63M438.43,205.71H443.63M480.27,156.28V174.84M477.67,156.28H482.87M477.67,174.84H482.87M519.50,129.34V143.54M516.90,129.34H522.10M516.90,143.54H522.10M558.74,102.95V118.97M556.14,102.95H561.34M556.14,118.97H561.34M597.97,68.19V88.21M595.37,68.19H600.57M595.37,88.21H600.57M637.21,34.52V49.08M634.61,34.52H639.81M634.61,49.08H639.81" stroke="#2b2b2b" stroke-width="1.35" fill="none"/>
<rect x="438.63" y="195.92" width="4.8" height="4.8" fill="#f00"/>
<rect x="477.87" y="163.16" width="4.8" height="4.8" fill="#f00"/>
<rect x="517.10" y="134.04" width="4.8" height="4.8" fill="#f00"/>
<rect x="556.34" y="108.56" width="4.8" height="4.8" fill="#f00"/>
<rect x="595.57" y="75.80" width="4.8" height="4.8" fill="#f00"/>
<rect x="634.81" y="39.40" width="4.8" height="4.8" fill="#f00"/>
<line x1="441.03" y1="198.32" x2="637.21" y2="45.44" stroke="#1a1a1a" stroke-width="1.3"/>
<text x="586.2" y="187.6" class="b10" style="font-size:10.6px" textLength="78.2" lengthAdjust="spacingAndGlyphs">Y= 0.45X + 108</text>
<text x="614.8" y="208.5" class="b10" style="font-size:10.6px" textLength="49.6" lengthAdjust="spacingAndGlyphs">R<tspan dy="-3.8" style="font-size:7.2px">2</tspan><tspan dy="3.8">= 0.997</tspan></text>
<text x="358.4" y="16.3" class="b14p" textLength="18" lengthAdjust="spacingAndGlyphs">(b)</text>
<text transform="translate(370.1,115.9) rotate(-90)" text-anchor="middle" style="font-family:'Liberation Serif',serif;font-size:14.8px;stroke:none">λ − λo</text>
<text x="457.5" y="254.9" class="b14" textLength="163" lengthAdjust="spacingAndGlyphs">Concentration (CFU mL<tspan dy="-4.5" style="font-size:9px">-1</tspan><tspan dy="4.5">)</tspan></text>
<text x="170" y="299" class="b14p" textLength="16.6" lengthAdjust="spacingAndGlyphs">(c)</text>
<rect x="187.65" y="307.25" width="304.8" height="42.15" fill="#e5e5e4" stroke="#a3a3a3" stroke-width="2.5"/>
<circle cx="210.50" cy="328.10" r="20.6" fill="#f3f3f3" stroke="#d2d2d2" stroke-width="0.7"/>
<circle cx="210.50" cy="327.90" r="17.5" fill="#D8300A"/>
<path d="M198.06,344.02 A20.2,20.2 0 0 1 190.50,325.29" fill="none" stroke="#b4b4b4" stroke-width="0.9"/>
<circle cx="254.30" cy="327.85" r="20.6" fill="#f3f3f3" stroke="#d2d2d2" stroke-width="0.7"/>
<circle cx="254.30" cy="327.65" r="17.5" fill="#951D48"/>
<path d="M241.86,343.77 A20.2,20.2 0 0 1 234.30,325.04" fill="none" stroke="#b4b4b4" stroke-width="0.9"/>
<circle cx="297.30" cy="327.60" r="20.6" fill="#f3f3f3" stroke="#d2d2d2" stroke-width="0.7"/>
<circle cx="297.30" cy="327.40" r="17.5" fill="#5B2D6E"/>
<path d="M284.86,343.52 A20.2,20.2 0 0 1 277.30,324.79" fill="none" stroke="#b4b4b4" stroke-width="0.9"/>
<circle cx="340.30" cy="327.35" r="20.6" fill="#f3f3f3" stroke="#d2d2d2" stroke-width="0.7"/>
<circle cx="340.30" cy="327.15" r="17.5" fill="#7A4A8A"/>
<path d="M327.86,343.27 A20.2,20.2 0 0 1 320.30,324.54" fill="none" stroke="#b4b4b4" stroke-width="0.9"/>
<circle cx="383.50" cy="327.10" r="20.6" fill="#f3f3f3" stroke="#d2d2d2" stroke-width="0.7"/>
<circle cx="383.50" cy="326.90" r="17.5" fill="#6466A2"/>
<path d="M371.06,343.02 A20.2,20.2 0 0 1 363.50,324.29" fill="none" stroke="#b4b4b4" stroke-width="0.9"/>
<circle cx="426.70" cy="326.85" r="20.6" fill="#f3f3f3" stroke="#d2d2d2" stroke-width="0.7"/>
<circle cx="426.70" cy="326.65" r="17.5" fill="#4B5E78"/>
<path d="M414.26,342.77 A20.2,20.2 0 0 1 406.70,324.04" fill="none" stroke="#b4b4b4" stroke-width="0.9"/>
<circle cx="469.50" cy="326.60" r="20.6" fill="#f3f3f3" stroke="#d2d2d2" stroke-width="0.7"/>
<circle cx="469.50" cy="326.40" r="17.5" fill="#1F6F98"/>
<path d="M457.06,342.52 A20.2,20.2 0 0 1 449.50,323.79" fill="none" stroke="#b4b4b4" stroke-width="0.9"/>
<text x="210.50" y="300" text-anchor="middle" class="c12">0.0</text>
<text x="252.80" y="300" text-anchor="middle" class="c12">18.75</text>
<text x="296.80" y="300" text-anchor="middle" class="c12">37.50</text>
<text x="340.00" y="300" text-anchor="middle" class="c12">56.25</text>
<text x="385.40" y="300" text-anchor="middle" class="c12">75.00</text>
<text x="426.60" y="300" text-anchor="middle" class="c12">93.75</text>
<text x="455.2" y="300" class="c12" textLength="58.5" lengthAdjust="spacingAndGlyphs">112.5×10<tspan dy="-4.8" style="font-size:9px">6</tspan></text>
<line x1="208.9" y1="362.0" x2="471" y2="362.0" stroke="#111" stroke-width="1.9"/>
<path d="M475,362.0 L467.8,358.5 L469.9,362.0 L467.8,365.5 Z" fill="#111" stroke="#111" stroke-width="0.6" stroke-linejoin="round"/>
</svg>
</body></html>
